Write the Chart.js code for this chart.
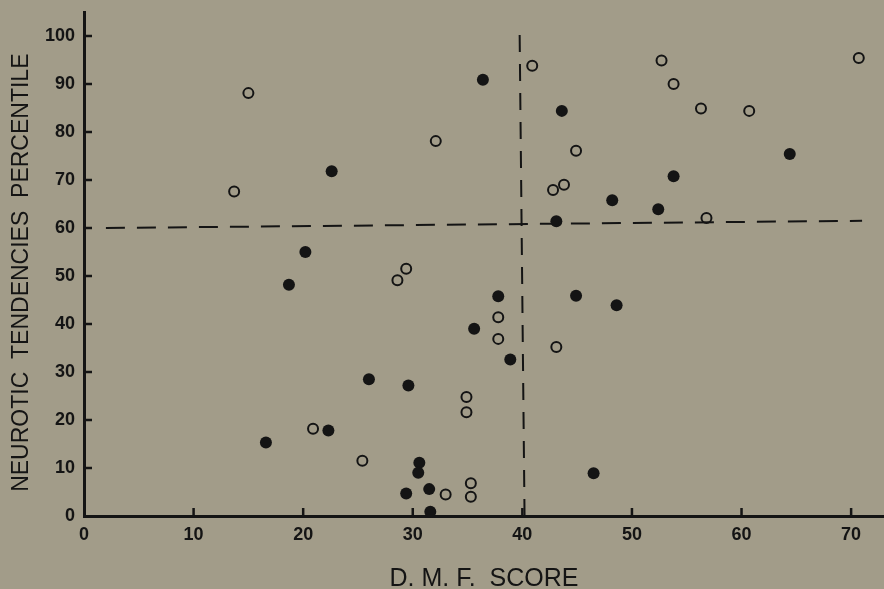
<!DOCTYPE html>
<html>
<head>
<meta charset="utf-8">
<script src="https://cdn.jsdelivr.net/npm/chart.js@4"></script>
<style>
  body { margin: 0; background: #a29c89; }
  canvas { display: block; }
</style>
</head>
<body>
<canvas id="dmf-chart" width="884" height="589"></canvas>
<script>
// Data
const openScores = [13.7, 15.0, 32.1, 40.9, 44.9, 42.8, 43.8, 29.4, 28.6, 52.7, 53.8, 56.3, 60.7, 70.7, 56.8, 37.8, 37.8, 43.1, 34.9, 34.9, 20.9, 25.4, 33.0, 35.3, 35.3];
const openPercentiles = [67.6, 88.1, 78.1, 93.8, 76.1, 67.9, 69.0, 51.5, 49.1, 94.9, 90.0, 84.9, 84.4, 95.4, 62.1, 41.4, 36.9, 35.2, 24.8, 21.6, 18.2, 11.5, 4.5, 6.8, 4.0];

const filledScores = [36.4, 43.6, 22.6, 43.1, 20.2, 18.7, 64.4, 53.8, 48.2, 52.4, 37.8, 44.9, 35.6, 38.9, 26.0, 29.6, 22.3, 30.6, 30.5, 29.4, 31.5, 31.6, 16.6, 48.6, 46.5];
const filledPercentiles = [90.9, 84.4, 71.8, 61.4, 55.0, 48.2, 75.4, 70.8, 65.8, 63.9, 45.8, 45.9, 39.0, 32.6, 28.5, 27.2, 17.8, 11.1, 9.0, 4.7, 5.6, 0.9, 15.3, 43.9, 8.9];

// cut-off lines as drawn (slightly skewed in the print)
const percentileCutX = [2, 71];
const percentileCutY = [60, 61.5];
const scoreCutX = [40.2, 39.75];
const scoreCutY = [0, 101];

const xTicks = [0, 10, 20, 30, 40, 50, 60, 70];
const yTicks = [0, 10, 20, 30, 40, 50, 60, 70, 80, 90, 100];

const ink = "#141414";
const fontFamily = "'Liberation Sans', Arial, sans-serif";

const toPoints = (xs, ys) => xs.map((x, i) => ({ x: x, y: ys[i] }));

// tick marks pointing into the plot
const innerTicks = {
  id: "innerTicks",
  afterDraw: (chart) => {
    const { ctx, chartArea, scales } = chart;
    ctx.save();
    ctx.strokeStyle = ink;
    ctx.lineWidth = 2.5;
    ctx.beginPath();
    scales.x.ticks.forEach((tick) => {
      if (tick.value === 0) return;
      const px = scales.x.getPixelForValue(tick.value);
      ctx.moveTo(px, chartArea.bottom);
      ctx.lineTo(px, chartArea.bottom - 8);
    });
    scales.y.ticks.forEach((tick) => {
      if (tick.value === 0) return;
      const py = scales.y.getPixelForValue(tick.value);
      ctx.moveTo(chartArea.left, py);
      ctx.lineTo(chartArea.left + 8, py);
    });
    ctx.stroke();
    ctx.restore();
  },
};

const noPadding = (scale) => {
  scale.paddingTop = 0;
  scale.paddingBottom = 0;
  scale.paddingLeft = 0;
  scale.paddingRight = 0;
};

// Chart
const chartElement = document.querySelector("#dmf-chart");
if (chartElement) {
  new Chart(chartElement, {
    type: "scatter",
    data: {
      datasets: [
        {
          type: "line",
          data: toPoints(percentileCutX, percentileCutY),
          borderColor: ink,
          borderWidth: 2,
          borderDash: [19, 12],
          pointRadius: 0,
          fill: false,
        },
        {
          type: "line",
          data: toPoints(scoreCutX, scoreCutY),
          borderColor: ink,
          borderWidth: 2,
          borderDash: [17, 12],
          pointRadius: 0,
          fill: false,
        },
        {
          data: toPoints(openScores, openPercentiles),
          pointRadius: 5,
          pointBorderWidth: 2,
          pointBorderColor: ink,
          pointBackgroundColor: "rgba(0,0,0,0)",
          clip: false,
        },
        {
          data: toPoints(filledScores, filledPercentiles),
          pointRadius: 6,
          pointBorderWidth: 0,
          pointBackgroundColor: ink,
          clip: false,
        },
      ],
    },
    options: {
      responsive: false,
      animation: false,
      layout: { autoPadding: false, padding: { top: 12, right: 0, left: 0, bottom: 0 } },
      plugins: {
        legend: { display: false },
        tooltip: { enabled: false },
      },
      scales: {
        x: {
          type: "linear",
          min: 0,
          max: 73,
          afterBuildTicks: (scale) => {
            scale.ticks = xTicks.map((v) => ({ value: v }));
          },
          afterFit: (scale) => {
            scale.height = 73;
            noPadding(scale);
          },
          grid: { drawOnChartArea: false, drawTicks: false },
          border: { color: ink, width: 3 },
          ticks: {
            color: ink,
            padding: 8,
            font: { family: fontFamily, size: 18, weight: "bold" },
          },
          title: {
            display: true,
            text: "D. M. F.  SCORE",
            color: ink,
            font: { family: fontFamily, size: 25 },
            padding: { top: 0, bottom: -5 },
          },
        },
        y: {
          type: "linear",
          min: 0,
          max: 105,
          afterBuildTicks: (scale) => {
            scale.ticks = yTicks.map((v) => ({ value: v }));
          },
          afterFit: (scale) => {
            scale.width = 84;
            noPadding(scale);
          },
          grid: { drawOnChartArea: false, drawTicks: false },
          border: { color: ink, width: 3 },
          ticks: {
            color: ink,
            padding: 9,
            font: { family: fontFamily, size: 18, weight: "bold" },
          },
          title: {
            display: true,
            // trailing spaces nudge the label down to where it sits in the print
            text: "NEUROTIC  TENDENCIES  PERCENTILE  \u2009",
            color: ink,
            font: { family: fontFamily, size: 23 },
            padding: { top: 8, bottom: 0 },
          },
        },
      },
    },
    plugins: [innerTicks],
  });
}
// End Chart
</script>
</body>
</html>
